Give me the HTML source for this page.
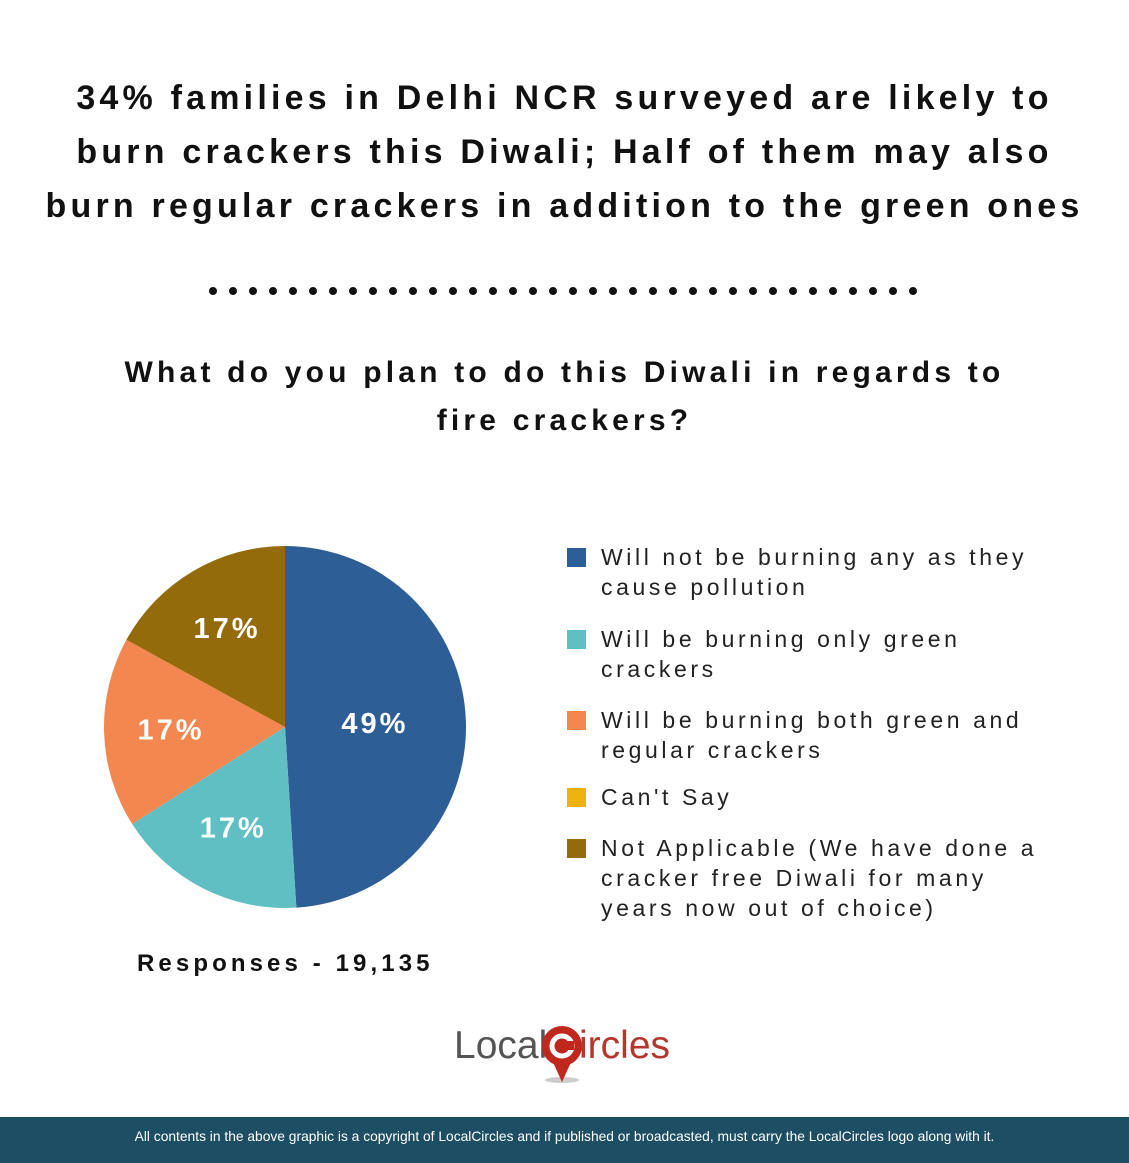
<!DOCTYPE html>
<html><head><meta charset="utf-8"><style>
body{margin:0;width:1129px;height:1163px;background:#fff;position:relative;overflow:hidden;font-family:"Liberation Sans",sans-serif;color:#111}
.t{position:absolute;left:0;width:1129px;text-align:center;font-weight:bold}
#title{top:71px;font-size:34px;line-height:54px;letter-spacing:4.2px}
#q{top:349px;font-size:30px;line-height:48px;letter-spacing:4.2px}
.leg{position:absolute;left:567px;font-size:23px;line-height:30px;letter-spacing:3.6px;color:#222}
.leg span{position:absolute;left:0;top:6px;width:19px;height:19px}
.leg div{margin-left:34px;width:450px}
#resp{position:absolute;left:137px;top:950px;font-size:24px;font-weight:bold;letter-spacing:4.1px}
#footer{position:absolute;left:0;top:1117px;width:1129px;height:46px;background:#1d4e63;color:#fff;font-size:13.8px;text-align:center;line-height:40px}
</style></head><body>
<div id="title" class="t">34% families in Delhi NCR surveyed are likely to<br>burn crackers this Diwali; Half of them may also<br>burn regular crackers in addition to the green ones</div>
<svg id="dots" style="position:absolute;left:0;top:280px" width="1129" height="22"></svg>
<div id="q" class="t">What do you plan to do this Diwali in regards to<br>fire crackers?</div>
<svg id="pie" style="position:absolute;left:0;top:0" width="560" height="1000"></svg>
<div id="legend"></div>
<div id="resp">Responses - 19,135</div>
<div style="position:absolute;left:454px;top:1022px;width:230px;height:64px">
<span style="position:absolute;left:0;top:2px;font-size:39px;color:#555">Local</span>
<svg style="position:absolute;left:86px;top:2px" width="44" height="62"><ellipse cx="22" cy="56" rx="17" ry="3" fill="#ccc"/><path d="M22 58 L12 36 L32 36Z" fill="#c0271d"/><circle cx="22" cy="22" r="20" fill="#c0271d"/><circle cx="22" cy="22" r="10" fill="none" stroke="#fff" stroke-width="5"/><rect x="23" y="17" width="11" height="9" fill="#c0271d"/></svg>
<span style="position:absolute;left:125px;top:2px;font-size:39px;color:#b5362d">ircles</span>
</div>
<div id="footer">All contents in the above graphic is a copyright of LocalCircles and if published or broadcasted, must carry the LocalCircles logo along with it.</div>
<script>
const categories=["Will not be burning any as they cause pollution","Will be burning only green crackers","Will be burning both green and regular crackers","Can't Say","Not Applicable (We have done a cracker free Diwali for many years now out of choice)"];
const values=[49,17,17,0,17];
const labels=["49%","17%","17%","","17%"];
const colors=["#2d5f96","#5fbfc2","#f2874f","#eeb211","#946b0b"];
const NS="http://www.w3.org/2000/svg";
const dots=document.getElementById('dots');
for(let i=0;i<36;i++){const c=document.createElementNS(NS,'circle');


c.setAttribute('cx',213+i*20);c.setAttribute('cy',11);c.setAttribute('r',4);c.setAttribute('fill','#111');dots.appendChild(c);}
const pie=document.getElementById('pie');
const cx=285,cy=727,R=181;
const total=values.reduce((a,b)=>a+b,0);
function pt(a,r){return [cx+r*Math.sin(a),cy-r*Math.cos(a)];}
let acc=0;
values.forEach((v,i)=>{
 if(v<=0)return;
 const a0=acc/total*2*Math.PI;acc+=v;const a1=acc/total*2*Math.PI;
 const p0=pt(a0,R),p1=pt(a1,R);
 const p=document.createElementNS(NS,'path');
 
 
 p.setAttribute('d',`M${cx},${cy}L${p0[0]},${p0[1]}A${R},${R} 0 ${a1-a0>Math.PI?1:0} 1 ${p1[0]},${p1[1]}Z`);
 p.setAttribute('fill',colors[i]);pie.appendChild(p);
 const m=(a0+a1)/2,lp=pt(m,v/total>0.4?90:114);
 const t=document.createElementNS(NS,'text');
 
 
 t.setAttribute('x',lp[0]);t.setAttribute('y',lp[1]+9);t.setAttribute('text-anchor','middle');
 t.setAttribute('fill','#fff');t.setAttribute('font-size','29');t.setAttribute('font-weight','bold');t.setAttribute('letter-spacing','3');
 t.setAttribute('font-family','Liberation Sans, sans-serif');t.textContent=labels[i];pie.appendChild(t);
});
const legTops=[542,624,705,782,833];
const leg=document.getElementById('legend');
categories.forEach((c,i)=>{
 const d=document.createElement('div');
 
 
 d.className='leg';d.style.top=legTops[i]+'px';
 d.innerHTML=`<span style="background:${colors[i]}"></span><div>${c}</div>`;
 leg.appendChild(d);
});
</script>
</body></html>
